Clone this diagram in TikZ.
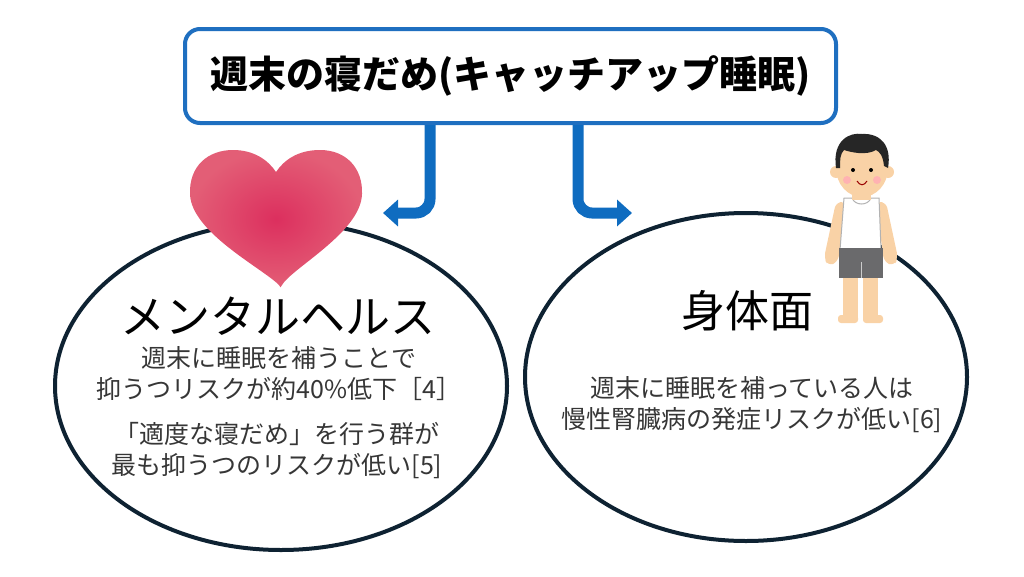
\documentclass[tikz,border=0pt]{standalone}
\usepackage{fontspec}
\setmainfont{Noto Sans CJK JP}
\usepackage{xcolor}
\usetikzlibrary{arrows.meta, calc, positioning, shapes.geometric}
\definecolor{boxblue}{HTML}{1F6FC0}
\definecolor{arrowblue}{HTML}{0F6CC0}
\definecolor{rimnavy}{HTML}{0E2232}
\definecolor{textgray}{HTML}{363636}
\definecolor{heartdeep}{HTML}{DC2F5E}
\definecolor{heartlight}{HTML}{E35E76}
\definecolor{skin}{HTML}{F9D2A6}
\definecolor{shorts}{HTML}{6A6A6C}

\begin{document}
\begin{tikzpicture}[x=1pt, y=-1pt,
  bubble/.style={draw=rimnavy, line width=4pt, ellipse, inner sep=0pt},
  flow/.style={draw=arrowblue, line width=11pt, rounded corners=14pt, -{Triangle[width=26pt,length=15pt]}},
  bodytext/.style={text=textgray, align=center, font=\fontsize{25}{31}\selectfont}]
\useasboundingbox (0,0) rectangle (1024,576);

% Title box
\node[draw=boxblue, line width=4pt, rounded corners=15pt, fill=white,
      minimum width=651pt, minimum height=94pt, font=\bfseries\fontsize{38}{42}\selectfont]
      (title) at (510.5,76) {週末の寝だめ(キャッチアップ睡眠)};

% Arrows
\coordinate (lstem) at (430,0);
\coordinate (rstem) at (578,0);
\coordinate (ltip) at (383,213);
\coordinate (rtip) at (632,213);
\draw[flow] (title.south -| lstem) |- (ltip);
\draw[flow] (title.south -| rstem) |- (rtip);

% Ellipses
\node[bubble, minimum width=452pt, minimum height=328pt] (mental) at (281,386) {};
\node[bubble, minimum width=442pt, minimum height=328pt] (physical) at (746,377) {};

% Heart
\shade[inner color=heartdeep, outer color=heartlight]
  (279,285) .. controls (262,268) and (191,232) .. (190,194)
  .. controls (189,166) and (208,150) .. (233,150)
  .. controls (254,150) and (268,160) .. (276,172)
  .. controls (284,160) and (298,150) .. (320,150)
  .. controls (346,150) and (363,168) .. (362,194)
  .. controls (361,232) and (292,268) .. (282,285)
  .. controls (280,288) and (281,288) .. (279,285) -- cycle;

% Person
\begin{scope}
\fill[skin] (843,270) rectangle (858,318);
\fill[skin] (863,270) rectangle (878,318);
\fill[skin, rounded corners=3pt] (838,315) rectangle (858,323);
\fill[skin, rounded corners=3pt] (863,315) rectangle (883,323);
\fill[skin, rounded corners=6pt] (836,202) -- (846,202) -- (838,262) -- (828,266) -- (824,258) -- cycle;
\fill[skin, rounded corners=6pt] (876,202) -- (886,202) -- (898,258) -- (894,266) -- (884,262) -- cycle;
\draw[gray!60, line width=1pt, fill=white] (844,198) -- (852,198) .. controls (855,206) and (868,206) .. (871,198) -- (879,198) -- (881,250) -- (840,250) -- cycle;
\fill[shorts] (839,248) rectangle (883,278);
\draw[gray!40, line width=1pt] (861,262) -- (861,278);
\fill[skin] (852,186) rectangle (871,200);
\fill[skin] (836,172) circle (6);
\fill[skin] (888,172) circle (6);
\fill[skin] (862,168) ellipse (26 and 29);
\fill[black!85] (836,168) .. controls (832,140) and (850,132) .. (862,134)
  .. controls (880,133) and (892,145) .. (888,168) -- (884,166)
  .. controls (883,156) and (880,152) .. (876,150)
  .. controls (866,156) and (850,152) .. (844,150)
  .. controls (840,154) and (840,160) .. (840,168) -- cycle;
\fill[black] (853,170) circle (2);
\fill[black] (871,170) circle (2);
\fill[red!30] (847,180) circle (4);
\fill[red!30] (877,180) circle (4);
\draw[red!60!black, line width=1pt] (857,181) .. controls (860,186) and (864,186) .. (867,181);
\end{scope}

% Texts
\node[font=\fontsize{45}{50}\selectfont] (mentaltitle) at (278,316) {メンタルヘルス};
\node[bodytext] (mentalone) at (279,374) {週末に睡眠を補うことで\\抑うつリスクが約40\%低下［4］};
\node[bodytext] (mentaltwo) at (277,451) {「適度な寝だめ」を行う群が\\最も抑うつのリスクが低い[5]};
\node[font=\fontsize{44}{50}\selectfont] (physicaltitle) at (747,311) {身体面};
\node[bodytext] (physicalone) at (752,405) {週末に睡眠を補っている人は\\慢性腎臓病の発症リスクが低い[6]};
\end{tikzpicture}
\end{document}
